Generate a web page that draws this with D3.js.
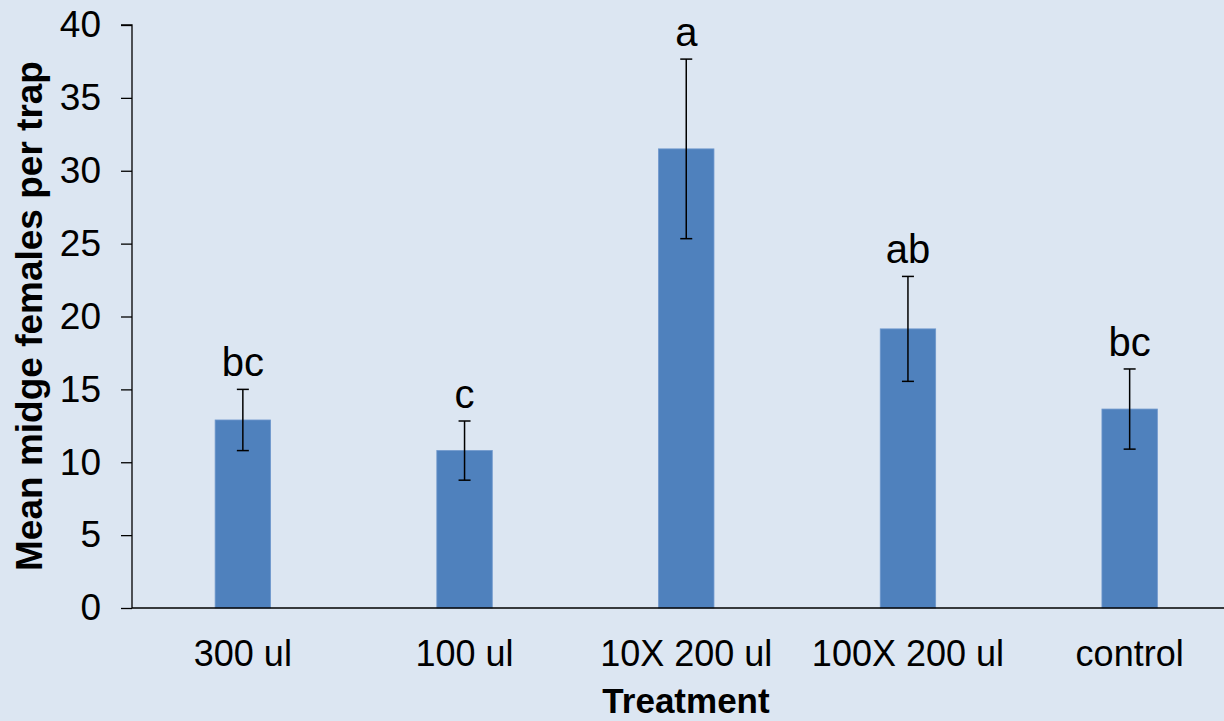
<!DOCTYPE html>
<html>
<head>
<meta charset="utf-8">
<script src="https://cdn.jsdelivr.net/npm/d3@7"></script>
<style>
  html, body { margin: 0; padding: 0; background: #dce6f2; }
  svg { display: block; font-family: Arial, "Liberation Sans", sans-serif; }
</style>
</head>
<body>
<svg id="chart" width="1224" height="721"></svg>
<script>
const categories = ["300 ul", "100 ul", "10X 200 ul", "100X 200 ul", "control"];
const means = [12.9, 10.8, 31.5, 19.15, 13.65];
const errors = [2.1, 2.03, 6.16, 3.6, 2.75];
const letters = ["bc", "c", "a", "ab", "bc"];
const yTicks = [0, 5, 10, 15, 20, 25, 30, 35, 40];

const svg = d3.select("#chart");
const W = 1224, H = 721;
svg.append("rect").attr("width", W).attr("height", H).attr("fill", "#dce6f2");

const x0 = 132, y0 = 608, yTop = 25;
const step = 221.7;
const x = d3.scaleBand().domain(categories)
  .range([x0, x0 + step * categories.length])
  .paddingInner(0.75).paddingOuter(0.375);
const y = d3.scaleLinear().domain([0, 40]).range([y0, yTop]);

// bars
svg.append("g").selectAll("rect").data(categories).join("rect")
  .attr("x", d => x(d))
  .attr("width", x.bandwidth())
  .attr("y", (d, i) => y(means[i]))
  .attr("height", (d, i) => y0 - y(means[i]))
  .attr("fill", "#4f81bd")
  .attr("stroke", "#6e97cc")
  .attr("stroke-width", 0.8);

// error bars
const eg = svg.append("g").attr("stroke", "#000").attr("stroke-width", 1.5);
categories.forEach((c, i) => {
  const cx = x(c) + x.bandwidth() / 2;
  const hi = y(means[i] + errors[i]), lo = y(means[i] - errors[i]);
  eg.append("line").attr("x1", cx).attr("x2", cx).attr("y1", hi).attr("y2", lo);
  eg.append("line").attr("x1", cx - 6).attr("x2", cx + 6).attr("y1", hi).attr("y2", hi);
  eg.append("line").attr("x1", cx - 6).attr("x2", cx + 6).attr("y1", lo).attr("y2", lo);
});

// letters
svg.append("g").selectAll("text").data(categories).join("text")
  .attr("x", d => x(d) + x.bandwidth() / 2)
  .attr("y", (d, i) => y(means[i] + errors[i]) - 13)
  .attr("text-anchor", "middle")
  .attr("font-size", 40)
  .attr("fill", "#000")
  .text((d, i) => letters[i]);

// y axis
const yAxis = d3.axisLeft(y).tickValues(yTicks).tickSize(11).tickPadding(20);
const ya = svg.append("g").attr("transform", `translate(${x0},0)`).call(yAxis);
ya.select(".domain").attr("stroke", "#000").attr("stroke-width", 1.3).attr("d", `M-11,${yTop}H0V${y0}`);
ya.selectAll(".tick line").attr("stroke", "#000").attr("stroke-width", 1.3);
ya.selectAll(".tick text").attr("font-size", 37).attr("fill", "#000")
  .attr("font-family", "Arial, 'Liberation Sans', sans-serif");

// x axis
const xAxis = d3.axisBottom(x).tickSize(0).tickPadding(32);
const xa = svg.append("g").attr("transform", `translate(0,${y0})`).call(xAxis);
xa.select(".domain").attr("stroke", "#000").attr("stroke-width", 1.3).attr("d", `M${x0},0H${W}`);
xa.selectAll(".tick text").attr("font-size", 36).attr("fill", "#000")
  .attr("font-family", "Arial, 'Liberation Sans', sans-serif");

// axis titles
svg.append("text")
  .attr("x", 686).attr("y", 713)
  .attr("text-anchor", "middle")
  .attr("font-size", 35).attr("font-weight", "bold")
  .text("Treatment");

svg.append("text")
  .attr("transform", "translate(42,316) rotate(-90)")
  .attr("text-anchor", "middle")
  .attr("font-size", 37).attr("font-weight", "bold")
  .text("Mean midge females per trap");
</script>
</body>
</html>
